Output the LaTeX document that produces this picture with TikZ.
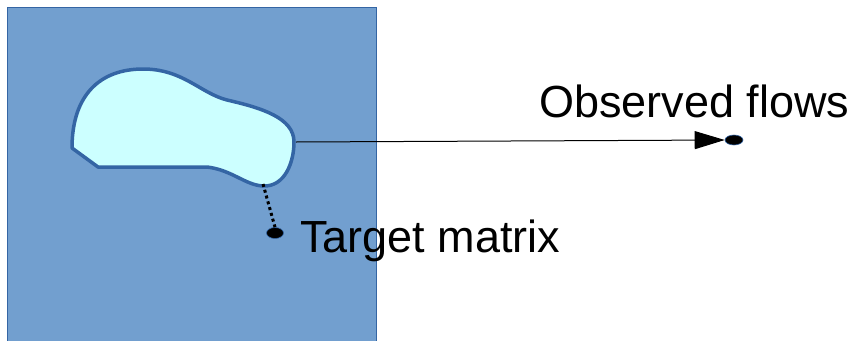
\documentclass[tikz,border=0pt]{standalone}
\usepackage{fontspec}
\setmainfont{Liberation Sans}
\usetikzlibrary{arrows.meta,shapes.geometric}
\definecolor{areafill}{HTML}{729FCF}
\definecolor{areaedge}{HTML}{3465A4}
\definecolor{blobfill}{HTML}{CCFFFF}
\tikzset{
  lbl/.style={anchor=base west, inner sep=0pt, font=\fontsize{45}{54}\selectfont},
  dotnode/.style={ellipse, fill=black, draw=areaedge, line width=0.6pt, inner sep=0pt},
}
\begin{document}
\begin{tikzpicture}[x=1pt,y=-1pt]
\useasboundingbox (0,0) rectangle (853,340);
\fill[white] (0,0) rectangle (853,340);
% region
\draw[fill=areafill, draw=areaedge, line width=1pt] (7,7) rectangle (376,342);
% blob
\draw[fill=blobfill, draw=areaedge, line width=3.5pt, line join=round]
  (72,148) -- (98,167) -- (207,167)
  .. controls (232,170) and (245,185) .. (263,186)
  .. controls (285,187) and (294,162) .. (294,142)
  .. controls (294,118) and (262,108) .. (227,100)
  .. controls (200,93) and (183,69) .. (143,69)
  .. controls (100,69) and (72,95) .. (72,148) -- cycle;
\coordinate (blobR) at (296,142);
\coordinate (blobB) at (263,184);
% dots
\node[dotnode, minimum width=17pt, minimum height=11pt] (tgt) at (275,233) {};
\node[dotnode, minimum width=18pt, minimum height=10pt] (obs) at (734,140) {};
% labels
\node[lbl] (tgtlbl) at (300,252) {Target matrix};
\node[lbl] (obslbl) at (539,117) {Observed flows};
% connectors
\draw[line width=3pt, dash pattern=on 3pt off 3pt] (blobB) -- (tgt.north);
\draw[line width=1pt, -{Triangle[length=30pt,width=18pt]}] (blobR) -- (obs.west);
\end{tikzpicture}
\end{document}
